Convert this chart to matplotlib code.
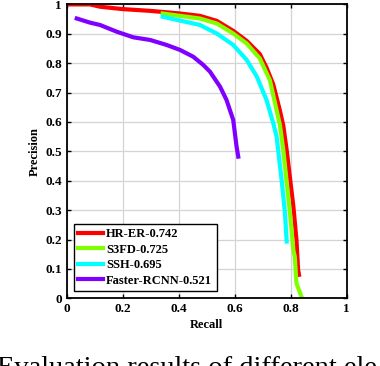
import numpy as np
import matplotlib.pyplot as plt

plt.rcParams['font.family'] = ['Liberation Serif', 'DejaVu Serif']

# HR-ER
hr_recall = [0.0, 0.083, 0.12, 0.20, 0.298, 0.405, 0.476, 0.536, 0.595, 0.643, 0.69,
             0.714, 0.738, 0.762, 0.774, 0.786, 0.810, 0.821, 0.827, 0.83]
hr_prec = [1.0, 1.0, 0.992, 0.984, 0.978, 0.969, 0.961, 0.944, 0.91, 0.876, 0.831,
           0.785, 0.728, 0.638, 0.587, 0.504, 0.312, 0.198, 0.096, 0.08]

# S3FD
s3_recall = [0.343, 0.476, 0.536, 0.595, 0.643, 0.69, 0.726, 0.750, 0.762, 0.774,
             0.798, 0.81, 0.815, 0.821, 0.839]
s3_prec = [0.969, 0.952, 0.935, 0.901, 0.867, 0.816, 0.742, 0.640, 0.589, 0.504,
           0.289, 0.164, 0.141, 0.051, 0.005]

# SSH
ssh_recall = [0.343, 0.476, 0.536, 0.595, 0.643, 0.679, 0.714, 0.738, 0.750, 0.768,
              0.780, 0.786]
ssh_prec = [0.958, 0.930, 0.901, 0.862, 0.811, 0.755, 0.675, 0.596, 0.550, 0.402,
            0.289, 0.193]

# Faster-RCNN
fr_recall = [0.036, 0.083, 0.119, 0.179, 0.238, 0.298, 0.357, 0.405, 0.452, 0.488,
             0.512, 0.548, 0.571, 0.595, 0.607, 0.613]
fr_prec = [0.952, 0.938, 0.930, 0.907, 0.888, 0.879, 0.862, 0.845, 0.822, 0.794,
           0.771, 0.720, 0.675, 0.607, 0.516, 0.482]

labels = ['HR-ER-0.742', 'S3FD-0.725', 'SSH-0.695', 'Faster-RCNN-0.521']
colors = ['#ff0000', '#80ff00', '#00ffff', '#8000ff']

fig = plt.figure(figsize=(3.8, 3.66), dpi=100)
ax = fig.add_axes([0.1755, 0.185, 0.7365, 0.803])

curves = [(hr_recall, hr_prec), (s3_recall, s3_prec), (ssh_recall, ssh_prec), (fr_recall, fr_prec)]
for (r, p), c, lab in zip(curves, colors, labels):
    ax.plot(r, p, color=c, lw=3, label=lab, solid_joinstyle='round')

ax.set_xlim(0, 1)
ax.set_ylim(0, 1)
ax.set_xticks(np.arange(0, 1.01, 0.2))
ax.set_yticks(np.arange(0, 1.01, 0.1))
ax.set_xticklabels(['0', '0.2', '0.4', '0.6', '0.8', '1'])
ax.set_yticklabels(['0'] + ['%.1f' % v for v in np.arange(0.1, 0.95, 0.1)] + ['1'])
ax.grid(True, color='#d4d4d4', lw=0.9)
ax.tick_params(direction='in', top=True, right=True, length=3, width=1, labelsize=9.5)
for lab in ax.get_xticklabels() + ax.get_yticklabels():
    lab.set_fontweight('bold')
for s in ax.spines.values():
    s.set_linewidth(1.3)

ax.set_xlabel('Recall', fontweight='bold', fontsize=9, labelpad=3)
ax.set_ylabel('Precision', fontweight='bold', fontsize=9, labelpad=3)

leg = ax.legend(loc='lower left', bbox_to_anchor=(0.025, 0.025), prop={'weight': 'bold', 'size': 9},
                handlelength=2.0, handletextpad=0.25, labelspacing=0.28, borderpad=0.35,
                fancybox=False, framealpha=1, borderaxespad=0)
leg.get_frame().set_edgecolor('black')
leg.get_frame().set_linewidth(1)

# caption of the source figure, cut by the bottom edge as in the picture
fig.text(-0.008, 0.027, 'Evaluation results of different ele', fontsize=20.5, va='top', ha='left')

fig.savefig('out.png', dpi=100)
